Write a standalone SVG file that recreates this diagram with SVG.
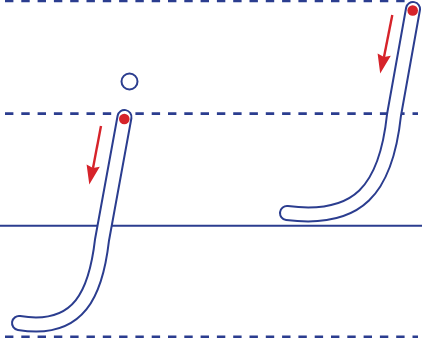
<svg xmlns="http://www.w3.org/2000/svg" width="422" height="343" viewBox="0 0 422 343">
<defs>
<style>
.dash{stroke:#2b3d8f;stroke-width:2.6;stroke-dasharray:8.4 7.9;fill:none}
.base{stroke:#2b3d8f;stroke-width:2;fill:none}
.outer{stroke:#2b3d8f;stroke-width:16;fill:none;stroke-linecap:round;stroke-linejoin:round}
.inner{stroke:#ffffff;stroke-width:12;fill:none;stroke-linecap:round;stroke-linejoin:round}
.arrow{stroke:#d6232a;stroke-width:2.4;fill:none}
.head{fill:#d6232a}
.dot{fill:#d6232a}
</style>
</defs>
<rect width="422" height="343" fill="#ffffff"/>
<g id="guides">
<line class="dash" x1="5" y1="0.9" x2="405" y2="0.9"/>
<line class="dash" x1="5" y1="113.6" x2="418" y2="113.6"/>
<line class="base" x1="0" y1="225.8" x2="422" y2="225.8"/>
<line class="dash" x1="5" y1="336.8" x2="418" y2="336.8"/>
</g>
<g id="small-j">
<circle cx="129.5" cy="81.5" r="8" fill="none" stroke="#2b3d8f" stroke-width="2"/>
<path class="outer" d="M124.5,117 L102,240 C96,292 80,333 19,323"/>
<path class="inner" d="M124.5,117 L102,240 C96,292 80,333 19,323"/>
<circle class="dot" cx="124.3" cy="119" r="5.3"/>
</g>
<g id="big-j">
<path class="outer" d="M413,9 L394,115 C386,190 358,222 287,213"/>
<path class="inner" d="M413,9 L394,115 C386,190 358,222 287,213"/>
<circle class="dot" cx="412.7" cy="10.5" r="5.3"/>
</g>
<g id="connectors">
<line class="arrow" x1="101" y1="126" x2="93" y2="168"/>
<path class="head" d="M89.3,184.5 L86.6,164.5 L93,168 L99.8,166.8 Z"/>
<line class="arrow" x1="392.3" y1="15" x2="384" y2="57"/>
<path class="head" d="M380.2,73.5 L377.6,53.5 L384,57 L390.8,55.8 Z"/>
</g>
</svg>
